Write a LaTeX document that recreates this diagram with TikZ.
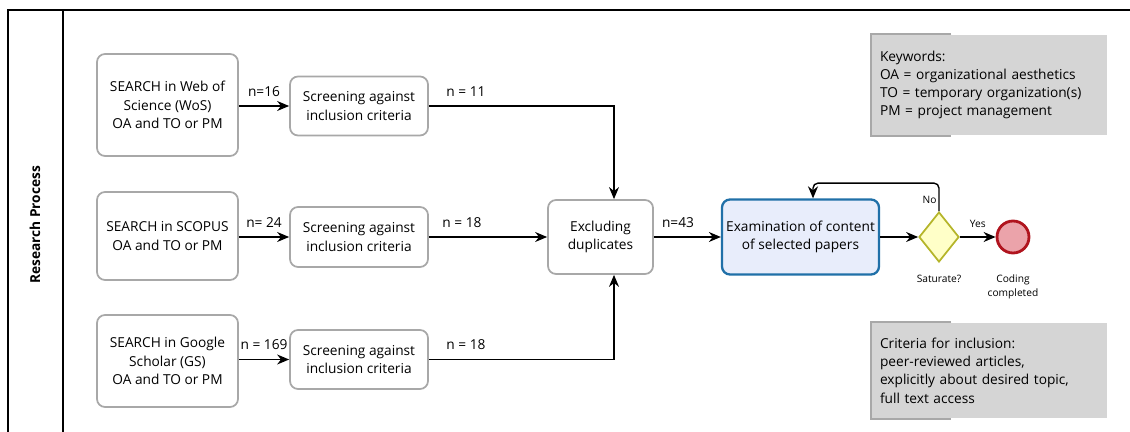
\documentclass[tikz,border=0pt]{standalone}
\usepackage{fontspec}
\setmainfont{Open Sans}
\usetikzlibrary{arrows.meta,positioning,shapes.geometric}
\definecolor{boxgray}{RGB}{168,168,168}
\definecolor{notegray}{RGB}{213,213,213}
\definecolor{examfill}{RGB}{232,237,251}
\definecolor{examline}{RGB}{32,112,168}
\definecolor{satfill}{RGB}{255,255,200}
\definecolor{satline}{RGB}{181,181,42}
\definecolor{endfill}{RGB}{235,163,170}
\definecolor{endline}{RGB}{176,20,30}

\begin{document}
\begin{tikzpicture}[>={Stealth[length=2.4mm,width=2mm]}, line width=0.8pt,
  every node/.style={font=\fontsize{7.8}{10.4}\selectfont},
  flow/.style={->},
  box/.style={draw=boxgray, line width=1pt, rounded corners=1.6mm, fill=white, align=center, inner sep=0pt},
  exambox/.style={box, draw=examline, line width=1.3pt, fill=examfill},
  gate/.style={diamond, draw=satline, line width=1pt, fill=satfill, minimum width=8mm, minimum height=10mm, inner sep=0pt, aspect=0.8},
  stop/.style={circle, draw=endline, line width=1.6pt, fill=endfill, minimum size=6.4mm, inner sep=0pt},
  note/.style={fill=notegray, align=left, text width=4.38cm, inner xsep=1.6mm, minimum width=4.7cm},
  lbl/.style={inner sep=1.5pt, above=3.5pt},
  tiny/.style={font=\fontsize{5.8}{7.8}\selectfont, align=center, inner sep=1pt}]
\useasboundingbox (0,0) rectangle (22.6,-8.64);
\draw (0.16,-8.64) -- (0.16,-0.2) -- (22.6,-0.2);
\draw (1.26,-0.2) -- (1.26,-8.64);
\node[rotate=90, font=\fontsize{7.8}{10}\selectfont\bfseries] (lane) at (0.70,-4.50) {Research Process};

\node[box, minimum width=2.82cm, minimum height=2.04cm] (wos) at (3.35,-2.10) {SEARCH in Web of\\Science (WoS)\\OA and TO or PM};
\node[box, minimum width=2.82cm, minimum height=1.76cm] (scopus) at (3.35,-4.72) {SEARCH in SCOPUS\\OA and TO or PM};
\node[box, minimum width=2.82cm, minimum height=1.84cm] (gs) at (3.35,-7.22) {SEARCH in Google\\Scholar (GS)\\OA and TO or PM};
\node[box, minimum width=2.76cm, minimum height=1.18cm] (scr1) at (7.18,-2.12) {Screening against\\inclusion criteria};
\node[box, minimum width=2.76cm, minimum height=1.20cm] (scr2) at (7.18,-4.74) {Screening against\\inclusion criteria};
\node[box, minimum width=2.76cm, minimum height=1.18cm] (scr3) at (7.18,-7.19) {Screening against\\inclusion criteria};
\node[box, minimum width=2.10cm, minimum height=1.48cm] (excl) at (12.01,-4.74) {Excluding\\duplicates};
\node[exambox, minimum width=3.14cm, minimum height=1.50cm] (exam) at (16.01,-4.74) {Examination of content\\of selected papers};
\node[gate] (sat) at (18.78,-4.74) {};
\node[stop] (done) at (20.26,-4.74) {};
\node[tiny, below=2mm of sat] (satlbl) {Saturate?};
\node[tiny, below=3.6mm of done] (donelbl) {Coding\\completed};

\node[note, minimum height=2.00cm] (kw) at (19.79,-1.70) {Keywords:\\OA = organizational aesthetics\\TO = temporary organization(s)\\PM = project management};
\node[note, minimum height=1.90cm] (crit) at (19.79,-7.41) {Criteria for inclusion:\\peer-reviewed articles,\\explicitly about desired topic,\\full text access};
\draw[boxgray, line width=1pt] ([xshift=1.6cm]kw.north west) -- (kw.north west) -- (kw.south west) -- ([xshift=1.6cm]kw.south west);
\draw[boxgray, line width=1pt] ([xshift=1.6cm]crit.north west) -- (crit.north west) -- (crit.south west) -- ([xshift=1.6cm]crit.south west);

\draw[flow] (wos.east |- scr1) -- node[lbl] {n=16} (scr1);
\draw[flow] (scopus.east |- scr2) -- node[lbl] {n= 24} (scr2);
\draw[flow] (gs.east |- scr3) -- node[lbl] {n = 169} (scr3);
\draw[flow] (scr1) -| node[lbl, pos=0.1] {n = 11} ([xshift=2.7mm]excl.north);
\draw[flow] (scr2) -- node[lbl, pos=0.28] {n = 18} (excl);
\draw[flow] (scr3) -| node[lbl, pos=0.1] {n = 18} ([xshift=2.7mm]excl.south);
\draw[flow] (excl) -- node[lbl, pos=0.36] {n=43} (exam);
\draw[flow] (exam) -- (sat);
\draw[flow] (sat) -- node[tiny, above=4pt] {Yes} (done);
\draw[flow, rounded corners=1mm] (sat.north) -- node[tiny, left, pos=0.4] {No} ++(0,0.56) -| ([xshift=2.5mm]exam.north);
\end{tikzpicture}
\end{document}
